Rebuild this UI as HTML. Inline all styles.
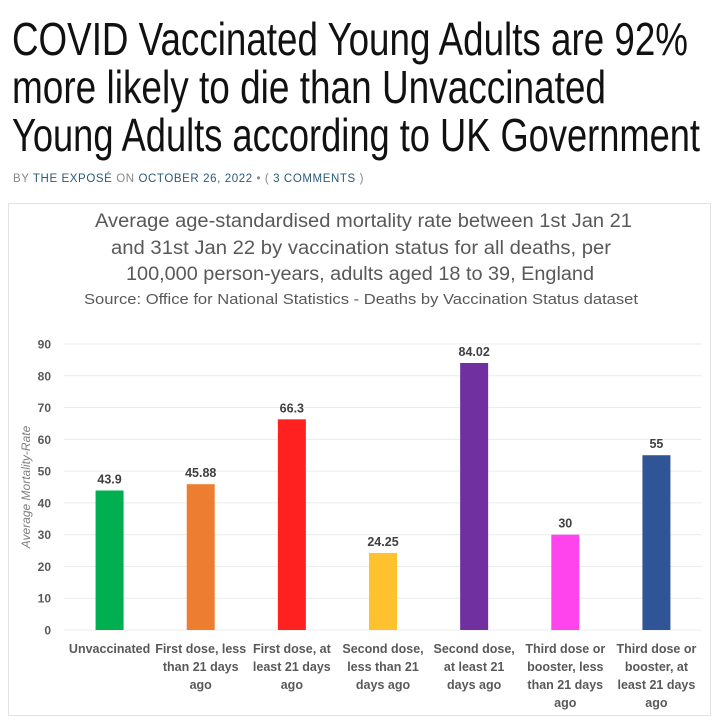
<!DOCTYPE html>
<html><head><meta charset="utf-8"><style>
body{margin:0;width:724px;height:721px;background:#fff;overflow:hidden;position:relative;font-family:"Liberation Sans",sans-serif}
#byline{position:absolute;left:13px;top:173px;font-size:11.5px;letter-spacing:0.6px;color:#888;white-space:nowrap}
#byline a{color:#2b5a7a;text-decoration:none}
#chartbox{position:absolute;left:8px;top:203px;width:701px;height:511px;border:1px solid #e3e3e3}
</style></head><body>
<div id="byline">BY <a>THE EXPOSÉ</a> ON <a>OCTOBER 26, 2022</a> • ( <a>3 COMMENTS</a> )</div>
<div id="chartbox"></div>
<svg id="chart" width="724" height="721" style="position:absolute;left:0;top:0">
<g font-family="Liberation Sans, sans-serif" fill="#111" font-size="46">
<text x="12" y="55" textLength="676" lengthAdjust="spacingAndGlyphs">COVID Vaccinated Young Adults are 92%</text>
<text x="12" y="103" textLength="594" lengthAdjust="spacingAndGlyphs">more likely to die than Unvaccinated</text>
<text x="12" y="151" textLength="688" lengthAdjust="spacingAndGlyphs">Young Adults according to UK Government</text>
</g>
<g font-family="Liberation Sans, sans-serif" fill="#595959">
<text x="95" y="227" font-size="19" textLength="537" lengthAdjust="spacingAndGlyphs">Average age-standardised mortality rate between 1st Jan 21</text>
<text x="111" y="254" font-size="19" textLength="500" lengthAdjust="spacingAndGlyphs">and  31st Jan 22 by vaccination status for all deaths, per</text>
<text x="126" y="280" font-size="19" textLength="468" lengthAdjust="spacingAndGlyphs">100,000 person-years, adults aged 18 to 39, England</text>
<text x="84" y="304" font-size="15" textLength="554" lengthAdjust="spacingAndGlyphs">Source: Office for National Statistics - Deaths by Vaccination Status dataset</text>
</g>
<text transform="translate(30,487) rotate(-90)" text-anchor="middle" font-size="12" font-style="italic" fill="#7f7f7f">Average Mortality-Rate</text>
<g id="grid"></g><g id="bars"></g><g id="labels"></g>
</svg>
<script>
const categories=[["Unvaccinated"],["First dose, less","than 21 days","ago"],["First dose, at","least 21 days","ago"],["Second dose,","less than 21","days ago"],["Second dose,","at least 21","days ago"],["Third dose or","booster, less","than 21 days","ago"],["Third dose or","booster, at","least 21 days","ago"]];
const values=[43.9,45.88,66.3,24.25,84.02,30,55];
const valueLabels=["43.9","45.88","66.3","24.25","84.02","30","55"];
const colors=["#00b050","#ed7d31","#ff2020","#ffc12e","#7030a0","#ff44ee","#2f5597"];
const yTicks=[0,10,20,30,40,50,60,70,80,90];
const NS="http://www.w3.org/2000/svg";
const y0=630,yTop=344,xL=64,xR=702;
const y=v=>y0-(v/90)*(y0-yTop);
const step=(xR-xL)/categories.length;
const x=i=>xL+step*(i+0.5);
function mk(t,a,p){const e=document.createElementNS(NS,t);for(const k in a)e.setAttribute(k,a[k]);p.appendChild(e);return e;}
const grid=document.getElementById('grid'),bars=document.getElementById('bars'),labels=document.getElementById('labels');
yTicks.forEach(t=>{
 const l=mk('line',{x1:xL,x2:xR,y1:y(t),y2:y(t),stroke:'#ececec','stroke-width':1},grid);
 
 
 const tx=mk('text',{x:51,y:y(t)+4.5,'text-anchor':'end','font-size':12,'font-weight':'bold',fill:'#595959'},grid);
 tx.textContent=t;
 
 
});
values.forEach((v,i)=>{
 const r=mk('rect',{x:x(i)-14,y:y(v),width:28,height:y0-y(v),fill:colors[i]},bars);
 
 
 const vl=mk('text',{x:x(i),y:y(v)-7,'text-anchor':'middle','font-size':12.5,'font-weight':'bold',fill:'#404040'},labels);
 vl.textContent=valueLabels[i];
 
 
 categories[i].forEach((line,j)=>{
  const c=mk('text',{x:x(i),y:653+j*18,'text-anchor':'middle','font-size':12.5,'font-weight':'bold',fill:'#595959'},labels);
  c.textContent=line;
  
  
 });
});
</script>
</body></html>
